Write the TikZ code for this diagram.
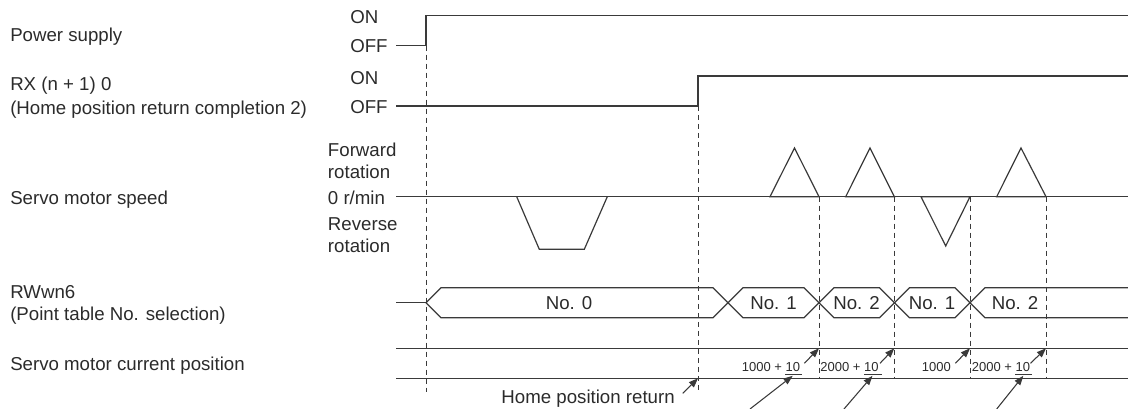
\documentclass[tikz,border=0pt]{standalone}
\usepackage{fontspec}
\setmainfont{Liberation Sans}
\usetikzlibrary{arrows.meta}
\definecolor{lc}{HTML}{3A3A3A}
\definecolor{tc}{HTML}{2B2B2B}
\begin{document}
\begin{tikzpicture}[x=0.75pt,y=-0.75pt,
  lbl/.style={font=\fontsize{14}{16}\selectfont, text=tc, inner sep=0pt},
  sm/.style={font=\fontsize{9.75}{11}\selectfont, text=tc, inner sep=0pt},
  sig/.style={draw=lc, line width=0.9pt, line join=miter},
  guide/.style={draw=lc, line width=0.75pt, dash pattern=on 3.75pt off 3pt},
  arr/.style={draw=lc, line width=0.8pt, -{Triangle[length=7pt,width=5.2pt]}},
  uline/.style={draw=lc, line width=0.9pt}]
\useasboundingbox (0,0) rectangle (1128,409);

% ---- left signal names ----
\node[lbl, anchor=base west] (nps) at (10,41.7) {Power supply};
\node[lbl, anchor=base west] (nrx1) at (10,90.3) {RX (n + 1) 0};
\node[lbl, anchor=base west] (nrx2) at (10,114.3) {(Home position return completion 2)};
\node[lbl, anchor=base west] (nsp) at (10,205) {Servo motor speed};
\node[lbl, anchor=base west] (nrw1) at (10,298.5) {RWwn6};
\node[lbl, anchor=base west] (nrw2) at (10,321) {(Point table No. selection)};
\node[lbl, anchor=base west] (ncp) at (10,370.3) {Servo motor current position};

% ---- level labels ----
\node[lbl, anchor=west] (on1) at (350,16.7) {ON};
\node[lbl, anchor=west] (off1) at (350,45.7) {OFF};
\node[lbl, anchor=west] (on2) at (350,77.7) {ON};
\node[lbl, anchor=west] (off2) at (350,106.7) {OFF};
\node[lbl, anchor=base west] (fw1) at (327.7,157) {Forward};
\node[lbl, anchor=base west] (fw2) at (327.7,178.5) {rotation};
\node[lbl, anchor=base west] (zr) at (327.7,205) {0 r/min};
\node[lbl, anchor=base west] (rv1) at (327.7,231) {Reverse};
\node[lbl, anchor=base west] (rv2) at (327.7,253) {rotation};

% ---- power supply ----
\draw[sig] (396,45.7) -- (426,45.7) -- (426,15.7) -- (1128,15.7);
% ---- RX(n+1)0 ----
\draw[sig] (396,106) -- (698,106) -- (698,76) -- (1128,76);

% ---- servo motor speed ----
\draw[sig] (396,196.7) -- (1128,196.7);
\draw[sig] (516.7,196.7) -- (539.3,249.3) -- (584.3,249.3) -- (607.3,196.7);
\draw[sig] (770,196.7) -- (794.5,148) -- (819,196.7) -- cycle;
\draw[sig] (845.7,196.7) -- (870,148) -- (894.3,196.7) -- cycle;
\draw[sig] (921,196.7) -- (945.7,246) -- (970,196.7) -- cycle;
\draw[sig] (996.7,196.7) -- (1021,148) -- (1046,196.7) -- cycle;

% ---- RWwn6 ----
\draw[sig] (396,302.7) -- (426,302.7);
\draw[sig] (426,302.7) -- (441,287.7) -- (713,287.7) -- (728,302.7) -- (713,317.7) -- (441,317.7) -- cycle;
\draw[sig] (728,302.7) -- (743,287.7) -- (804,287.7) -- (819,302.7) -- (804,317.7) -- (743,317.7) -- cycle;
\draw[sig] (819,302.7) -- (834,287.7) -- (879.5,287.7) -- (894.5,302.7) -- (879.5,317.7) -- (834,317.7) -- cycle;
\draw[sig] (894.5,302.7) -- (909.5,287.7) -- (955,287.7) -- (970,302.7) -- (955,317.7) -- (909.5,317.7) -- cycle;
\draw[sig] (1128,287.7) -- (985,287.7) -- (970,302.7) -- (985,317.7) -- (1128,317.7);
\node[lbl] (h0) at (569,302.7) {No. 0};
\node[lbl] (h1) at (773.5,302.7) {No. 1};
\node[lbl] (h2) at (856.5,302.7) {No. 2};
\node[lbl] (h3) at (932,302.7) {No. 1};
\node[lbl] (h4) at (1015,302.7) {No. 2};

% ---- current position ----
\draw[sig] (396,348.3) -- (1128,348.3);
\draw[sig] (396,378.3) -- (1128,378.3);

% ---- guide lines ----
\draw[guide] (426,45.7) -- (426,392);
\draw[guide] (698,106) -- (698,392);
\coordinate (t1) at (819,348.3);
\coordinate (t2) at (894.3,348.3);
\coordinate (t3) at (970,348.3);
\coordinate (t4) at (1046,348.3);
\draw[guide] (819,196.7) -- (819,378.3);
\draw[guide] (894.3,196.7) -- (894.3,378.3);
\draw[guide] (970,196.7) -- (970,378.3);
\draw[guide] (1046,196.7) -- (1046,378.3);

% ---- position labels ----
\node[sm] (p1) at (771,366.7) {1000 + 10};
\node[sm] (p2) at (849.5,366.7) {2000 + 10};
\node[sm] (p3) at (936.3,366.7) {1000};
\node[sm] (p4) at (1001,366.7) {2000 + 10};
\draw[uline] (785,374.3) coordinate (u1a) -- (801.7,374.3) coordinate (u1b);
\draw[uline] (864.3,374.3) coordinate (u2a) -- (881.7,374.3) coordinate (u2b);
\draw[uline] (1015,374.3) coordinate (u4a) -- (1032.3,374.3) coordinate (u4b);
\coordinate (m1) at (792.7,375.8);
\coordinate (m2) at (872.5,375.8);
\coordinate (m4) at (1023.3,375.8);

% small arrows to guide/top-line crossings
\coordinate (s1) at (804.3,363.3);
\coordinate (s2) at (880,363.3);
\coordinate (s3) at (955.3,363.3);
\coordinate (s4) at (1030.5,363.3);
\draw[arr] (s1) -- (t1);
\draw[arr] (s2) -- (t2);
\draw[arr] (s3) -- (t3);
\draw[arr] (s4) -- (t4);

% long arrows from below to the underlined increments
\coordinate (b1) at (750,409);
\coordinate (b2) at (844,409);
\coordinate (b4) at (996.7,409);
\draw[arr] (b1) -- (m1);
\draw[arr] (b2) -- (m2);
\draw[arr] (b4) -- (m4);

% home position return
\node[lbl, anchor=base east] (hpr) at (675,403.5) {Home position return};
\coordinate (hs) at (682.7,393.3);
\coordinate (ht) at (698,378.3);
\draw[arr] (hs) -- (ht);
\end{tikzpicture}
\end{document}
